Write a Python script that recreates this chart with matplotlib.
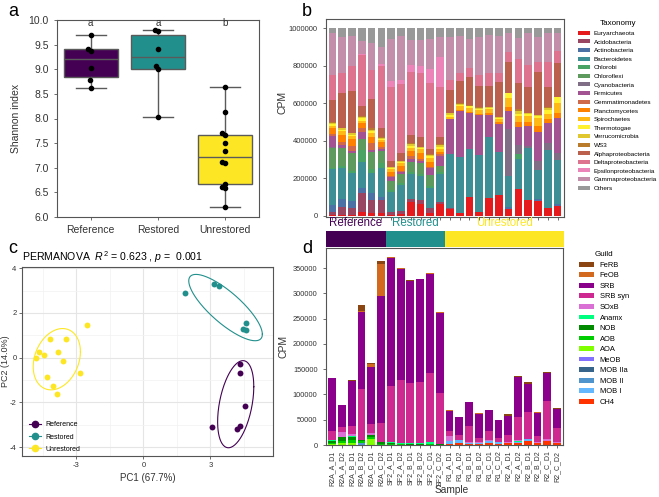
import matplotlib
matplotlib.use("Agg")
import matplotlib.pyplot as plt
import numpy as np
from matplotlib.colors import LinearSegmentedColormap
from matplotlib.lines import Line2D
from matplotlib.patches import Patch

plt.rcParams['font.family'] = ['Liberation Sans', 'DejaVu Sans']
plt.rcParams['axes.unicode_minus'] = False
plt.rcParams['mathtext.fontset'] = 'custom'
plt.rcParams['mathtext.rm'] = 'Liberation Sans'
plt.rcParams['mathtext.it'] = 'Liberation Sans:italic'

# --- groups
groups = ['Reference', 'Restored', 'Unrestored']
group_colors = ['#440154', '#21908C', '#FDE725']
group_sizes = [6, 6, 12]

# --- panel a: shannon index
shannon_ref = [9.69, 9.42, 9.37, 9.03, 8.78, 8.62]
shannon_res = [9.80, 9.78, 9.42, 9.06, 9.00, 8.03]
shannon_unr = [8.63, 8.14, 7.71, 7.66, 7.50, 7.33, 7.12, 7.10, 6.68, 6.60, 6.58, 6.21]
letters = ['a', 'a', 'b']
jitter_ref = [0.0, -0.04, 0.01, 0.0, -0.01, 0.0]
jitter_res = [-0.05, 0.0, 0.0, -0.03, 0.0, 0.0]
jitter_unr = [0.0, 0.0, -0.05, 0.0, 0.0, 0.0, -0.05, 0.0, 0.0, -0.05, 0.0, 0.0]

# --- panel b: taxonomy (thousand CPM per sample)
taxa = ['Euryarchaeota', 'Acidobacteria', 'Actinobacteria', 'Bacteroidetes', 'Chlorobi',
        'Chloroflexi', 'Cyanobacteria', 'Firmicutes', 'Gemmatimonadetes', 'Planctomycetes',
        'Spirochaetes', 'Thermotogae', 'Verrucomicrobia', 'WS3', 'Alphaproteobacteria',
        'Deltaproteobacteria', 'Epsilonproteobacteria', 'Gammaproteobacteria', 'Others']
eury = [4, 4, 4, 18, 12, 12, 4, 9, 75, 62, 12, 62, 34, 16, 101, 21, 93, 110, 34, 141, 84, 80, 39, 53]
acido = [14, 41, 36, 105, 71, 71, 18, 18, 14, 21, 27, 12, 5, 0, 0, 0, 0, 0, 0, 0, 0, 0, 0, 0]
actino = [39, 43, 36, 27, 36, 18, 0, 0, 0, 0, 0, 0, 0, 0, 0, 0, 0, 0, 14, 0, 0, 7, 0, 9]
bacte = [190, 165, 151, 139, 110, 151, 103, 137, 133, 128, 107, 151, 290, 299, 253, 302, 329, 231, 164, 160, 276, 157, 311, 235]
chlorobi = [10, 10, 12, 60, 20, 30, 12, 10, 12, 12, 15, 10, 0, 0, 0, 0, 0, 0, 0, 27, 0, 0, 0, 0]
chlorofl = [105, 97, 95, 61, 92, 64, 50, 49, 50, 56, 56, 29, 0, 0, 0, 0, 0, 0, 0, 0, 0, 0, 0, 0]
cyano = [3, 3, 3, 0, 0, 0, 0, 0, 0, 0, 0, 0, 0, 0, 0, 0, 0, 0, 249, 50, 12, 48, 36, 39]
firmi = [62, 12, 9, 39, 12, 12, 21, 9, 16, 11, 36, 53, 185, 245, 192, 213, 116, 151, 100, 93, 107, 157, 110, 183]
gemma = [9, 18, 27, 18, 36, 9, 5, 9, 18, 11, 9, 11, 0, 0, 0, 0, 0, 0, 0, 0, 0, 0, 0, 0]
plancto = [30, 39, 38, 26, 32, 24, 22, 24, 26, 35, 26, 12, 4, 5, 8, 8, 8, 8, 21, 27, 23, 30, 20, 27]
spiro = [14, 20, 15, 15, 18, 15, 15, 15, 15, 20, 18, 15, 10, 20, 20, 18, 22, 16, 44, 35, 30, 41, 27, 53]
thermo = [9, 8, 6, 12, 12, 6, 6, 6, 15, 6, 12, 14, 12, 8, 10, 10, 8, 6, 30, 12, 10, 10, 20, 36]
verru = [5, 6, 8, 6, 9, 5, 4, 4, 10, 4, 7, 8, 6, 4, 4, 4, 4, 4, 0, 12, 8, 8, 12, 0]
ws3 = [4, 4, 4, 6, 6, 3, 2, 2, 5, 2, 4, 5, 2, 2, 2, 2, 2, 2, 0, 12, 0, 0, 7, 0]
alpha = [121, 187, 222, 53, 155, 50, 30, 44, 41, 53, 25, 39, 124, 121, 148, 114, 110, 187, 165, 142, 139, 231, 107, 178]
delta = [133, 103, 133, 272, 157, 330, 393, 367, 338, 342, 352, 267, 50, 43, 48, 59, 68, 48, 53, 125, 116, 53, 133, 66]
epsil = [0, 0, 0, 4, 0, 10, 34, 21, 36, 36, 75, 157, 0, 0, 0, 0, 0, 0, 0, 0, 0, 0, 0, 0]
gamma = [222, 196, 161, 69, 146, 92, 222, 235, 134, 139, 160, 107, 230, 196, 155, 205, 204, 196, 99, 111, 168, 130, 155, 98]
others = [26, 44, 40, 70, 76, 98, 59, 41, 62, 62, 59, 48, 48, 41, 59, 44, 36, 41, 27, 53, 27, 48, 23, 23]
taxa_values = [eury, acido, actino, bacte, chlorobi, chlorofl, cyano, firmi, gemma, plancto,
               spiro, thermo, verru, ws3, alpha, delta, epsil, gamma, others]
set1 = ['#E41A1C', '#377EB8', '#4DAF4A', '#984EA3', '#FF7F00', '#FFFF33', '#A65628', '#F781BF', '#999999']

# --- panel c: PCA
pc_ref_x = [4.34, 4.32, 4.56, 3.07, 4.19, 4.35]
pc_ref_y = [-0.28, -0.70, -2.17, -3.09, -3.17, -3.05]
pc_res_x = [1.87, 3.16, 3.39, 4.59, 4.47, 4.62]
pc_res_y = [2.88, 3.30, 3.18, 1.55, 1.29, 1.23]
pc_unr_x = [-2.51, -4.18, -3.45, -4.69, -4.81, -4.44, -3.83, -3.59, -2.82, -4.30, -4.06, -3.88]
pc_unr_y = [1.48, 0.82, 0.82, 0.24, 0.00, 0.12, 0.27, -0.13, -0.69, -0.87, -1.26, -1.61]

# --- panel d: guilds (thousand CPM)
samples = ['R2A_A_D1', 'R2A_A_D2', 'R2A_B_D1', 'R2A_B_D2', 'R2A_C_D1', 'R2A_C_D2',
           'SF2_A_D1', 'SF2_A_D2', 'SF2_B_D1', 'SF2_B_D2', 'SF2_C_D1', 'SF2_C_D2',
           'R1_A_D1', 'R1_A_D2', 'R1_B_D1', 'R1_B_D2', 'R1_C_D1', 'R1_C_D2',
           'R2_A_D1', 'R2_A_D2', 'R2_B_D1', 'R2_B_D2', 'R2_C_D1', 'R2_C_D2']
guilds = ['FeRB', 'FeOB', 'SRB', 'SRB syn', 'SOxB', 'Anamx', 'NOB', 'AOB', 'AOA',
          'MeOB', 'MOB IIa', 'MOB II', 'MOB I', 'CH4']
guild_colors = ['#8B4513', '#D2691E', '#8B008B', '#CD2990', '#DA70D6', '#00FF7F', '#008B00',
                '#00CD00', '#7FFF00', '#8470FF', '#36648B', '#4F94CD', '#63B8FF', '#FF3300']
ferb = [0.5, 0.3, 0.3, 10.6, 1.5, 6.6, 1, 0.5, 0.5, 0.5, 0.5, 1.5, 0, 0, 0, 0, 0, 0, 4, 3, 2.5, 0, 2.5, 2]
feob = [0, 0, 0, 2.6, 6, 63, 1.5, 1.5, 1, 1, 1, 1, 0.6, 0.4, 0.8, 0.6, 0.6, 0.5, 0, 0, 0, 1, 0, 0]
srb = [105.6, 44.4, 90.3, 152.7, 112, 251, 252.3, 221, 202.5, 204, 197, 158,
       40, 34.5, 48.5, 48.5, 41.8, 35.2, 36.5, 77.6, 57.1, 46.5, 54.8, 37.8]
srb_syn = [16.7, 10, 15.9, 100, 19.3, 37.8, 111.5, 124, 118.7, 120.5, 137, 101,
           11.3, 10, 31.2, 8, 17.9, 8, 14.6, 47.1, 51.8, 11.3, 75, 27.9]
soxb = [1.5, 9.3, 4, 1, 2.5, 0, 0, 0, 0, 0, 0, 0, 8.6, 1, 2.6, 1, 1, 0.5, 1.5, 1, 1, 2, 3.3, 2.6]
anamx = [0.5, 1, 0.8, 0, 1.5, 1, 2.5, 2, 1.5, 1.5, 3, 1.5, 0, 0, 0, 0, 0, 0, 0, 2.6, 0, 0, 0, 0]
nob = [4, 7, 7, 2.5, 4, 3, 2, 1, 1, 1, 1, 0.6, 0, 0, 0, 0, 0, 0, 0, 0, 0, 0, 0, 0]
aob = [3, 5, 6, 4, 3, 2, 1.5, 1, 0.8, 0.8, 1, 0.5, 0, 0, 0, 0, 0, 0, 0, 0, 0, 0, 0, 0]
aoa = [1.5, 3, 3.5, 0, 12, 0, 0, 0, 0, 0, 0, 0, 0, 0, 0, 0, 0, 0, 0, 0, 0, 0, 0, 0]
meob = [0, 0, 0, 0, 0, 0, 0, 0, 0, 0, 0, 0, 0, 0, 0, 0, 0, 0, 0, 0, 0, 0, 0, 0]
mob2a = [0, 0, 0, 0, 0, 0, 0, 0, 0, 0, 0, 0, 0, 0, 0, 0, 0, 0, 0, 0, 0, 0, 0, 0]
mob2 = [0, 0, 0, 3, 0, 0, 0, 0, 0, 0, 0, 0, 0, 0, 0, 0, 0, 0, 0, 0, 0, 0, 0, 0]
mob1 = [0, 0, 0, 0, 0, 0, 0, 0, 0, 0, 0, 0, 6, 6.6, 1.5, 3.3, 5.6, 4, 1, 2.6, 4, 1, 0, 0]
ch4 = [0, 0, 0, 0, 0, 0, 0, 0, 0, 0, 0, 0, 2.3, 3, 1.5, 1.5, 3.3, 2, 3.3, 3, 7.6, 3, 8.6, 3]
guild_values = [ferb, feob, srb, srb_syn, soxb, anamx, nob, aob, aoa, meob, mob2a, mob2, mob1, ch4]

W, H = 659, 497
def box(x0, y0, x1, y1):
    return [x0 / W, 1 - y1 / H, (x1 - x0) / W, (y1 - y0) / H]

def style_axes(ax, col='#555555'):
    for s in ax.spines.values():
        s.set_color(col)
        s.set_linewidth(0.8)
    ax.tick_params(colors='#555555', labelcolor='#333333', length=2.5, width=0.6)

fig = plt.figure(figsize=(6.59, 4.97), dpi=100)

# ================= a
ax = fig.add_axes(box(57, 20, 259, 217))
bp = ax.boxplot([shannon_ref, shannon_res, shannon_unr], positions=[1, 2, 3], widths=0.8,
                patch_artist=True, showfliers=False, capwidths=0.45)
for patch, c in zip(bp['boxes'], group_colors):
    patch.set_facecolor(c)
    patch.set_edgecolor('#5a5a5a')
    patch.set_linewidth(1)
for k in ['whiskers', 'caps', 'medians']:
    for l in bp[k]:
        l.set_color('#5a5a5a')
        l.set_linewidth(1)
for i, (vals, jit) in enumerate(zip([shannon_ref, shannon_res, shannon_unr],
                                    [jitter_ref, jitter_res, jitter_unr])):
    ax.plot(np.array(jit) + i + 1, vals, 'o', color='black', ms=3, zorder=4)
    ax.text(i + 1, 9.93, letters[i], ha='center', va='center', fontsize=7, color='#333333')
ax.set_xlim(0.5, 3.5)
ax.set_ylim(6.0, 10.0)
ax.set_yticks(np.arange(6.0, 10.01, 0.5))
ax.set_yticklabels(['%.1f' % v for v in np.arange(6.0, 10.01, 0.5)])
ax.set_xticks([1, 2, 3])
ax.set_xticklabels(groups)
ax.tick_params(labelsize=7.5)
ax.set_ylabel('Shannon index', fontsize=7.5, color='#333333')
ax.yaxis.set_label_coords(-0.18, 0.5)
style_axes(ax)

# ================= b
axb = fig.add_axes(box(326, 19, 564, 217))
cmap = LinearSegmentedColormap.from_list('set1ramp', set1)
taxa_colors = [cmap(v) for v in np.linspace(0, 1, len(taxa))]
x = np.arange(len(samples))
bottom = np.zeros(len(samples))
for name, vals, col in zip(taxa, taxa_values, taxa_colors):
    v = np.array(vals) * 1000.0
    axb.bar(x, v, bottom=bottom, width=0.78, color=col, linewidth=0, label=name)
    bottom += v
axb.set_xlim(-0.65, 23.65)
axb.set_ylim(-7000, 1050000)
axb.set_yticks([0, 200000, 400000, 600000, 800000, 1000000])
axb.set_yticklabels(['0', '200000', '400000', '600000', '800000', '1000000'])
axb.set_xticks(x)
axb.set_xticklabels([])
axb.tick_params(labelsize=5.5)
axb.set_ylabel('CPM', fontsize=7.5, color='#333333')
axb.yaxis.set_label_coords(-0.16, 0.58)
style_axes(axb)
hb = [Patch(facecolor=c, edgecolor='none', label=n) for n, c in zip(taxa, taxa_colors)]
fig.legend(handles=hb, title='Taxonomy', loc='upper left', bbox_to_anchor=(574 / W, 1 - 16 / H),
           frameon=False, fontsize=4.6, title_fontsize=5.8, handlelength=1.8, handleheight=0.6,
           labelspacing=0.52, handletextpad=0.6, borderpad=0.2)

# group bar
axg = fig.add_axes(box(326, 231, 564, 247))
starts = np.concatenate([[0], np.cumsum(group_sizes)[:-1]])
axg.barh(0, group_sizes, left=starts, height=1, color=group_colors, linewidth=0)
for g, s, n, c in zip(groups, starts, group_sizes, group_colors):
    axg.text(s + n / 2, 1.5, g, transform=axg.get_xaxis_transform(), ha='center', va='center',
             fontsize=8.3, color=c)
axg.set_xlim(0, sum(group_sizes))
axg.set_ylim(-0.5, 0.5)
axg.axis('off')

# ================= c
axc = fig.add_axes(box(22, 267, 273, 456))
axc.set_xlim(-5.44, 5.81)
axc.set_ylim(-4.39, 4.05)
axc.set_xticks([-3, 0, 3])
axc.set_yticks([-4, -2, 0, 2, 4])
axc.set_xticks([-4.5, -1.5, 1.5, 4.5], minor=True)
axc.set_yticks([-3, -1, 1, 3], minor=True)
axc.grid(True, which='major', color='#E5E5E5', linewidth=0.8)
axc.grid(True, which='minor', color='#F2F2F2', linewidth=0.5)
axc.set_axisbelow(True)
axc.tick_params(which='minor', length=0)
t = np.linspace(0, 2 * np.pi, 200)
circle = np.column_stack([np.cos(t), np.sin(t)])
ed = np.sqrt(-2 * np.log(1 - 0.68))
handles_c = []
for g, px, py, c in zip(groups, [pc_ref_x, pc_res_x, pc_unr_x], [pc_ref_y, pc_res_y, pc_unr_y], group_colors):
    pts = np.column_stack([px, py])
    mu = pts.mean(axis=0)
    sigma = np.cov(pts, rowvar=False)
    ell = circle @ np.linalg.cholesky(sigma).T * ed + mu
    axc.plot(ell[:, 0], ell[:, 1], color=c, linewidth=0.8)
    axc.scatter(px, py, s=18, color=c, zorder=3, linewidths=0)
    handles_c.append(Line2D([0], [0], color=c, marker='o', markersize=4.5, linewidth=0.8, label=g))
axc.legend(handles=handles_c, loc='lower left', bbox_to_anchor=(0.0, -0.02), frameon=False,
           fontsize=5, handlelength=1.8, labelspacing=0.75, handletextpad=0.6, borderpad=0.5)
style_axes(axc)
axc.tick_params(labelsize=5.5, pad=1.5)
axc.set_xlabel('PC1 (67.7%)', fontsize=7, color='#333333')
axc.set_ylabel('PC2 (14.0%)', fontsize=6.5, color='#333333')
axc.xaxis.set_label_coords(0.5, -0.09)
axc.yaxis.set_label_coords(-0.046, 0.5)
axc.set_title('PERMANOVA  $R^2$ = 0.623 , $p$ =  0.001', fontsize=7.6, loc='left', pad=4)

# ================= d
axd = fig.add_axes(box(326, 248, 563, 445))
bottom = np.zeros(len(samples))
for name, vals, col in zip(guilds[::-1], guild_values[::-1], guild_colors[::-1]):
    v = np.array(vals) * 1000.0
    axd.bar(x, v, bottom=bottom, width=0.8, color=col, linewidth=0)
    bottom += v
axd.set_xlim(-0.63, 23.6)
axd.set_ylim(0, 390000)
axd.set_yticks([0, 50000, 100000, 150000, 200000, 250000, 300000, 350000])
axd.set_yticklabels(['0', '50000', '100000', '150000', '200000', '250000', '300000', '350000'])
axd.set_xticks(x)
axd.set_xticklabels(samples, rotation=90)
style_axes(axd)
axd.tick_params(axis='y', labelsize=5.3)
axd.tick_params(axis='x', labelsize=5.0, pad=1.5)
axd.set_ylabel('CPM', fontsize=7.5, color='#333333')
axd.yaxis.set_label_coords(-0.16, 0.5)
axd.set_xlabel('Sample', fontsize=7.3, color='#333333')
axd.xaxis.set_label_coords(0.53, -0.205)
hd = [Patch(facecolor=c, edgecolor='none', label=n) for n, c in zip(guilds, guild_colors)]
fig.legend(handles=hd, title='Guild', loc='upper left', bbox_to_anchor=(574 / W, 1 - 246 / H),
           frameon=False, fontsize=5.4, title_fontsize=5.8, handlelength=1.9, handleheight=0.6,
           labelspacing=0.47, handletextpad=0.8, borderpad=0.2)

# panel letters
for lab, px, py in [('a', 8, 3), ('b', 302, 3), ('c', 8, 240), ('d', 302, 240)]:
    fig.text(px / W, 1 - py / H, lab, fontsize=13, va='top', ha='left')

fig.savefig('out.png', dpi=100)
